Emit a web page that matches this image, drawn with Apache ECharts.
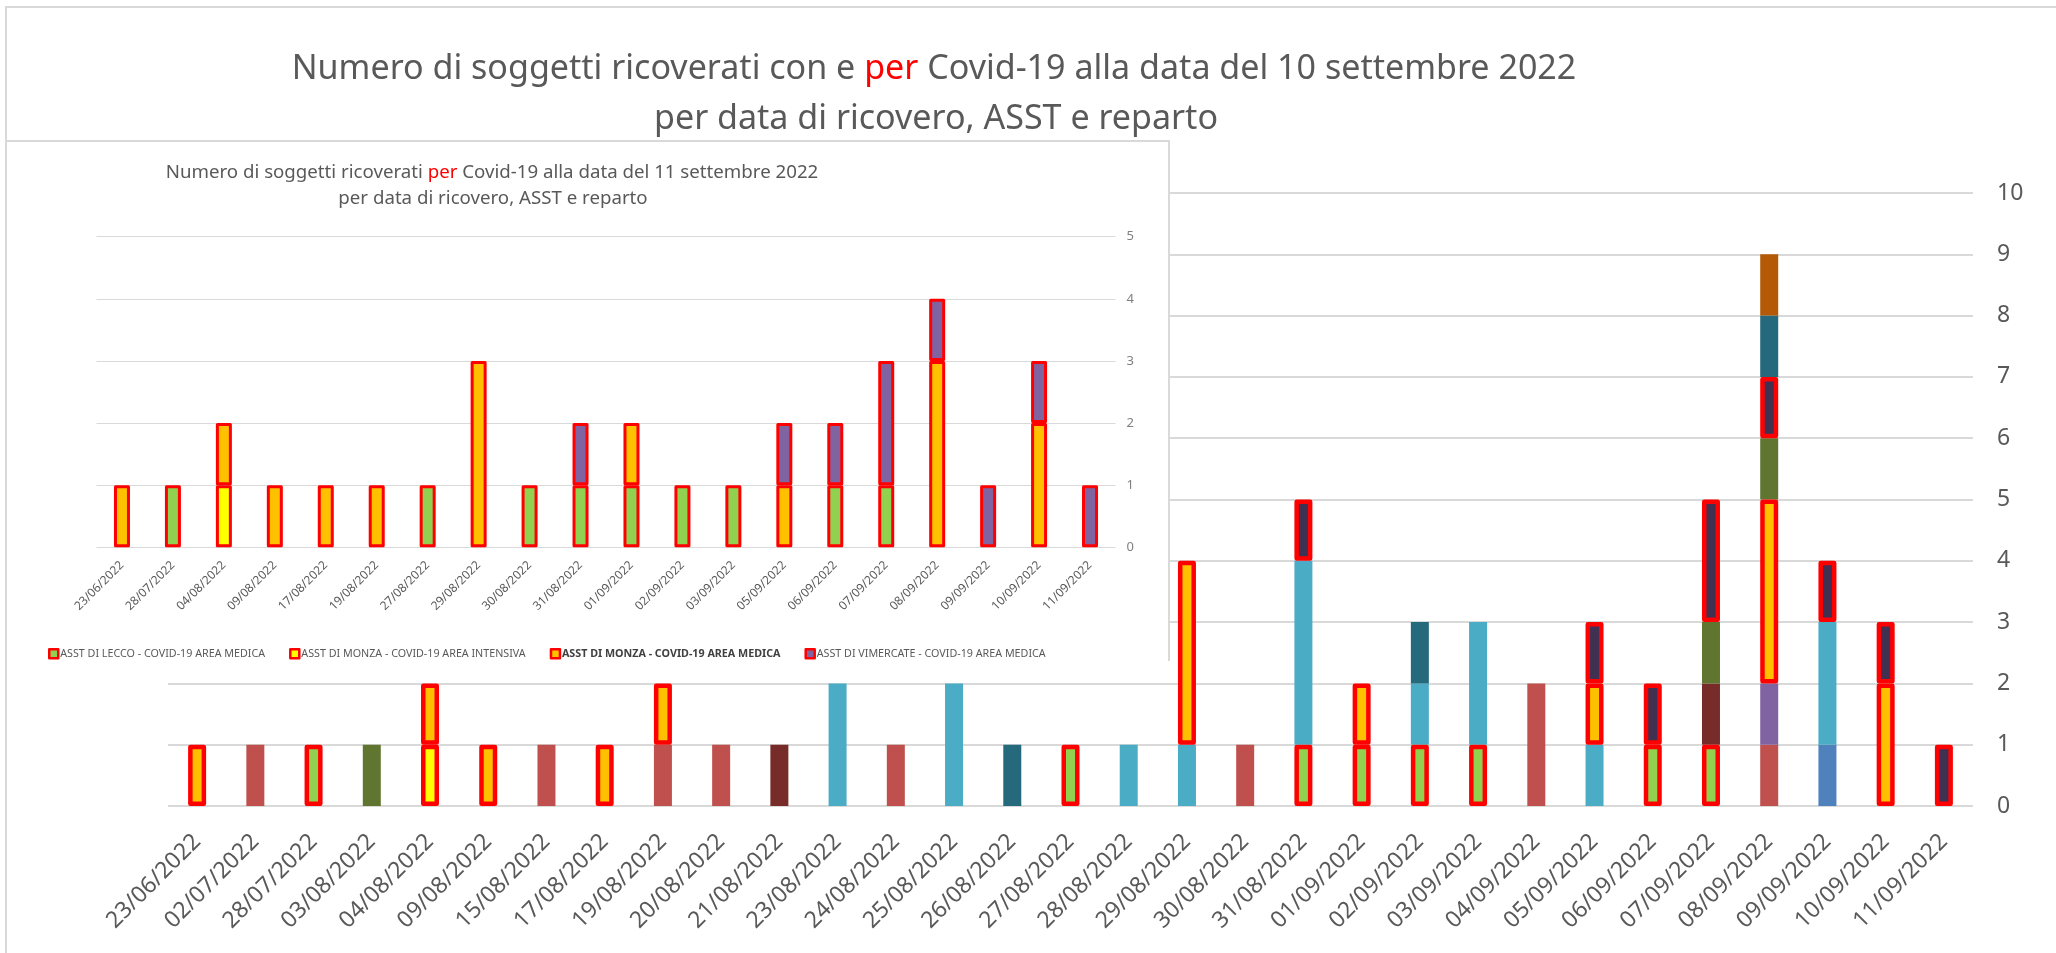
<!DOCTYPE html>
<html><head><meta charset="utf-8">
<script src="https://cdn.jsdelivr.net/npm/echarts@6/dist/echarts.min.js"></script>
<style>
html,body{margin:0;padding:0;background:#fff;width:2056px;height:953px;overflow:hidden}
#frame{position:absolute;left:5px;top:6px;width:2051px;height:947px;border-top:2px solid #d9d9d9;border-left:2px solid #d9d9d9;box-sizing:border-box}
#main{position:absolute;left:0;top:0;width:2056px;height:953px}
#insetBox{position:absolute;left:5px;top:140px;width:1165px;height:521px;background:#fff;border:2px solid #d9d9d9;border-bottom:none;box-sizing:border-box}
#inset{position:absolute;left:7px;top:142px;width:1161px;height:519px}
</style></head>
<body>
<div id="frame"></div>
<div id="main"></div>
<div id="insetBox"></div>
<div id="inset"></div>
<script>
const _ = null;
// ---------- Big chart (10 settembre) ----------
const bigCategories = ['23/06/2022','02/07/2022','28/07/2022','03/08/2022','04/08/2022','09/08/2022','15/08/2022','17/08/2022','19/08/2022','20/08/2022','21/08/2022','23/08/2022','24/08/2022','25/08/2022','26/08/2022','27/08/2022','28/08/2022','29/08/2022','30/08/2022','31/08/2022','01/09/2022','02/09/2022','03/09/2022','04/09/2022','05/09/2022','06/09/2022','07/09/2022','08/09/2022','09/09/2022','10/09/2022','11/09/2022'];
const bigBrownRed   = [_,1,_,_,_, _,1,_,1,1, _,_,1,_,_, _,_,_,1,_, _,_,_,2,_, _,_,1,_,_, _];
const bigLeccoMed   = [_,_,1,_,_, _,_,_,_,_, _,_,_,_,_, 1,_,_,_,1, 1,1,1,_,_, 1,1,_,_,_, _];
const bigMonzaInt   = [_,_,_,_,1, _,_,_,_,_, _,_,_,_,_, _,_,_,_,_, _,_,_,_,_, _,_,_,_,_, _];
const bigBlue       = [_,_,_,_,_, _,_,_,_,_, _,_,_,_,_, _,_,_,_,_, _,_,_,_,_, _,_,_,1,_, _];
const bigLightBlue  = [_,_,_,_,_, _,_,_,_,_, _,2,_,2,_, _,1,1,_,3, _,1,2,_,1, _,_,_,2,_, _];
const bigMaroon     = [_,_,_,_,_, _,_,_,_,_, 1,_,_,_,_, _,_,_,_,_, _,_,_,_,_, _,1,_,_,_, _];
const bigPurple     = [_,_,_,_,_, _,_,_,_,_, _,_,_,_,_, _,_,_,_,_, _,_,_,_,_, _,_,1,_,_, _];
const bigMonzaMed   = [1,_,_,_,1, 1,_,1,1,_, _,_,_,_,_, _,_,3,_,_, 1,_,_,_,1, _,_,3,_,2, _];
const bigOlive      = [_,_,_,1,_, _,_,_,_,_, _,_,_,_,_, _,_,_,_,_, _,_,_,_,_, _,1,1,_,_, _];
const bigVimercate  = [_,_,_,_,_, _,_,_,_,_, _,_,_,_,_, _,_,_,_,1, _,_,_,_,1, 1,2,1,1,1, 1];
const bigDarkTeal   = [_,_,_,_,_, _,_,_,_,_, _,_,_,_,1, _,_,_,_,_, _,1,_,_,_, _,_,1,_,_, _];
const bigBurnt      = [_,_,_,_,_, _,_,_,_,_, _,_,_,_,_, _,_,_,_,_, _,_,_,_,_, _,_,1,_,_, _];
const bigTicks = [0,10,1];

// ---------- Inset chart (11 settembre) ----------
const insetCategories = ['23/06/2022','28/07/2022','04/08/2022','09/08/2022','17/08/2022','19/08/2022','27/08/2022','29/08/2022','30/08/2022','31/08/2022','01/09/2022','02/09/2022','03/09/2022','05/09/2022','06/09/2022','07/09/2022','08/09/2022','09/09/2022','10/09/2022','11/09/2022'];
const insetLecco     = [_,1,_,_,_, _,1,_,1,1, 1,1,1,_,1, 1,_,_,_,_];
const insetMonzaInt  = [_,_,1,_,_, _,_,_,_,_, _,_,_,_,_, _,_,_,_,_];
const insetMonzaMed  = [1,_,1,1,1, 1,_,3,_,_, 1,_,_,1,_, _,3,_,2,_];
const insetVimercate = [_,_,_,_,_, _,_,_,_,1, _,_,_,1,1, 2,1,1,1,1];
const insetTicks = [0,5,1];
const legendNames = ['ASST DI LECCO - COVID-19 AREA MEDICA','ASST DI MONZA - COVID-19 AREA INTENSIVA','ASST DI MONZA - COVID-19 AREA MEDICA','ASST DI VIMERCATE - COVID-19 AREA MEDICA'];

const FONT = 'Noto Sans';
const GRAY = '#595959';
function fit(text, target, weight){
  const c = document.createElement('canvas').getContext('2d');
  c.font = (weight||'normal') + ' 100px "' + FONT + '"';
  return 100 * target / c.measureText(text).width;
}

const mainT1a = 'Numero di soggetti ricoverati con e ', mainT1b = 'per', mainT1c = ' Covid-19 alla data del 10 settembre 2022';
const mainT2 = 'per data di ricovero, ASST e reparto';
const mainFs = fit(mainT1a + mainT1b + mainT1c, 1285);

function bar(name, data, color, bordered, bw, brd){
  return {
    name, type:'bar', stack:'tot', data, barWidth:bw,
    itemStyle: bordered ? {color, borderColor:'#FF0000', borderWidth:brd, borderJoin:'round'} : {color, borderWidth:0},
    emphasis:{disabled:true}, z: bordered ? 3 : 2, animation:false
  };
}

const main = echarts.init(document.getElementById('main'), null, {renderer:'canvas'});
main.setOption({
  animation:false,
  textStyle:{fontFamily:FONT},
  graphic:[
    {type:'text', x:934, y:69, style:{
      text:'{a|'+mainT1a+'}{r|'+mainT1b+'}{a|'+mainT1c+'}',
      align:'center', verticalAlign:'middle',
      rich:{a:{fontSize:mainFs, fontFamily:FONT, fill:GRAY, color:GRAY}, r:{fontSize:mainFs, fontFamily:FONT, fill:'#FF0000', color:'#FF0000'}}
    }},
    {type:'text', x:936, y:119, style:{text:mainT2, align:'center', verticalAlign:'middle', fontSize:mainFs, fontFamily:FONT, fill:GRAY}}
  ],
  grid:{left:168, right:83, top:193, bottom:147, containLabel:false},
  xAxis:{type:'category', data:bigCategories, boundaryGap:true,
    axisLine:{show:false}, axisTick:{show:false},
    axisLabel:{rotate:45, interval:0, fontSize:23, color:GRAY, margin:32, fontFamily:FONT}},
  yAxis:{type:'value', position:'right', min:bigTicks[0], max:bigTicks[1], interval:bigTicks[2],
    axisLine:{show:false}, axisTick:{show:false},
    splitLine:{lineStyle:{color:'#d9d9d9', width:2}},
    axisLabel:{fontSize:23, color:GRAY, margin:24, fontFamily:FONT}},
  series:[
    bar('s1', bigBrownRed, '#C0504D', false, 18),
    bar('ASST DI LECCO - COVID-19 AREA MEDICA', bigLeccoMed, '#92D050', true, 18, 4.5),
    bar('ASST DI MONZA - COVID-19 AREA INTENSIVA', bigMonzaInt, '#FFFF00', true, 18, 4.5),
    bar('s4', bigBlue, '#4F81BD', false, 18),
    bar('s5', bigLightBlue, '#4BACC6', false, 18),
    bar('s6', bigMaroon, '#772C2A', false, 18),
    bar('s7', bigPurple, '#8064A2', false, 18),
    bar('ASST DI MONZA - COVID-19 AREA MEDICA', bigMonzaMed, '#FFC000', true, 18, 4.5),
    bar('s9', bigOlive, '#607530', false, 18),
    bar('ASST DI VIMERCATE - COVID-19 AREA MEDICA', bigVimercate, '#403152', true, 18, 4.5),
    bar('s11', bigDarkTeal, '#256A7C', false, 18),
    bar('s12', bigBurnt, '#B45A06', false, 18)
  ]
});

const insT1a = 'Numero di soggetti ricoverati ', insT1b = 'per', insT1c = ' Covid-19 alla data del 11 settembre 2022';
const insT2 = 'per data di ricovero, ASST e reparto';
const insFs = fit(insT1a + insT1b + insT1c, 653);
const legFs = fit(legendNames[0], 205);

const inset = echarts.init(document.getElementById('inset'), null, {renderer:'canvas'});
inset.setOption({
  animation:false,
  textStyle:{fontFamily:FONT},
  graphic:[
    {type:'text', x:485, y:31, style:{
      text:'{a|'+insT1a+'}{r|'+insT1b+'}{a|'+insT1c+'}',
      align:'center', verticalAlign:'middle',
      rich:{a:{fontSize:insFs, fontFamily:FONT, fill:GRAY, color:GRAY}, r:{fontSize:insFs, fontFamily:FONT, fill:'#FF0000', color:'#FF0000'}}
    }},
    {type:'text', x:486, y:57, style:{text:insT2, align:'center', verticalAlign:'middle', fontSize:insFs, fontFamily:FONT, fill:GRAY}}
  ],
  legend:{
    data:legendNames, left:41, top:506, padding:0, itemGap:24, itemWidth:9, itemHeight:9,
    icon:'rect', selectedMode:false,
    itemStyle:{borderWidth:2.5},
    formatter:function(n){ return n === legendNames[2] ? '{b|'+n+'}' : n; },
    textStyle:{fontSize:legFs, color:GRAY, fontFamily:FONT, padding:[0,0,0,-3],
      rich:{b:{fontSize:legFs, fontWeight:'bold', color:'#404040', fontFamily:FONT}}}
  },
  grid:{left:89.5, right:52.5, top:94.7, bottom:113.7, containLabel:false},
  xAxis:{type:'category', data:insetCategories, boundaryGap:true,
    axisLine:{show:false}, axisTick:{show:false},
    axisLabel:{rotate:45, interval:0, fontSize:12, color:GRAY, margin:16, fontFamily:FONT}},
  yAxis:{type:'value', position:'right', min:insetTicks[0], max:insetTicks[1], interval:insetTicks[2],
    axisLine:{show:false}, axisTick:{show:false},
    splitLine:{lineStyle:{color:'#d9d9d9', width:1}},
    axisLabel:{fontSize:13, color:'#7f7f7f', margin:11, fontFamily:FONT}},
  series:[
    bar(legendNames[0], insetLecco, '#92D050', true, 16, 3),
    bar(legendNames[1], insetMonzaInt, '#FFFF00', true, 16, 3),
    bar(legendNames[2], insetMonzaMed, '#FFC000', true, 16, 3),
    bar(legendNames[3], insetVimercate, '#8064A2', true, 16, 3)
  ]
});
</script>
</body></html>
